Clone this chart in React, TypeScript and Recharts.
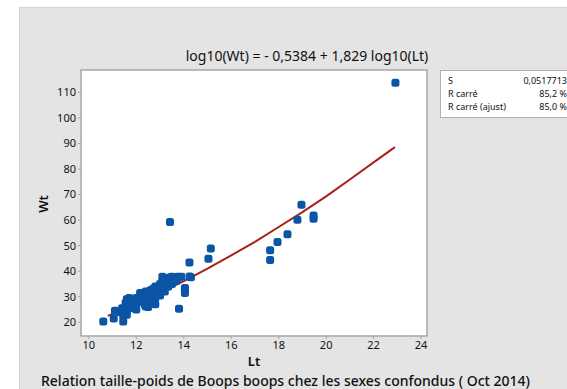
import React from 'react';
import { ComposedChart, Scatter, Line, XAxis, YAxis, ReferenceArea } from 'recharts';

const obsLt = [
  10.61, 11.05, 11.1, 11.3, 11.45, 11.45, 11.5, 11.6, 11.55, 11.6, 11.7, 11.8, 11.8, 11.9, 11.9, 12.0,
  11.7, 12.0, 12.1, 12.1, 12.2, 12.2, 12.3, 12.3, 12.35, 12.4, 12.5, 12.4, 12.4, 12.5, 12.5, 12.6,
  12.6, 12.7, 12.7, 12.7, 12.8, 12.8, 12.8, 12.9, 12.9, 13.0, 13.0, 13.0, 13.1, 13.1, 13.2, 13.2,
  13.2, 13.3, 13.3, 13.4, 13.4, 13.5, 13.5, 13.6, 13.6, 13.7, 13.75, 13.7, 13.9, 14.05, 14.05, 14.05,
  14.25, 14.3, 13.8, 14.24, 12.0, 11.4, 11.6, 12.16, 13.35, 13.42,
  15.04, 15.14, 17.64, 17.64, 17.95, 18.37, 18.79, 18.96, 19.47, 19.47, 22.92,
];
const obsWt = [
  20.3, 21.5, 24.5, 24.0, 20.3, 22.5, 25.0, 24.5, 27.5, 29.0, 29.5, 28.5, 27.0, 26.0, 25.5, 25.0,
  26.0, 27.5, 28.0, 29.0, 30.0, 31.0, 29.5, 28.0, 27.0, 26.2, 26.0, 30.5, 32.0, 31.5, 29.0, 30.0,
  32.5, 33.0, 31.0, 28.5, 27.0, 29.5, 34.0, 33.0, 31.5, 35.0, 33.5, 30.5, 36.0, 37.8, 34.5, 32.0,
  36.5, 35.5, 34.0, 36.5, 37.5, 37.8, 35.0, 37.5, 36.0, 37.0, 37.8, 36.2, 37.8, 33.4, 31.4, 32.6,
  37.9, 37.6, 25.3, 43.4, 29.5, 25.5, 22.9, 31.4, 34.0, 59.3,
  44.9, 48.9, 48.2, 44.4, 51.4, 54.5, 60.1, 66.0, 61.8, 60.5, 113.8,
];

// fitted curve, points
const fitLt = [10.8, 11.5, 12, 13, 14, 15, 16, 17, 18, 19, 20, 21, 22, 22.9];
const fitWt = [22.5, 25.2, 27.2, 31.6, 36.1, 41.0, 46.2, 51.5, 57.3, 63.1, 69.3, 75.9, 82.6, 88.6];

const xTicks = [10, 12, 14, 16, 18, 20, 22, 24];
const yTicks = [20, 30, 40, 50, 60, 70, 80, 90, 100, 110];

const statLabels = ['S', 'R carré', 'R carré (ajust)'];
const statValues = ['0,0517713', '85,2 %', '85,0 %'];

const observations = obsLt.map((lt, i) => ({ lt, wt: obsWt[i] }));
const fitted = fitLt.map((lt, i) => ({ lt, fit: fitWt[i] }));

const X_DOMAIN: [number, number] = [9.67, 24.25];
const Y_DOMAIN: [number, number] = [14.6, 118.8];

const FONT = '"Noto Sans", "Open Sans", sans-serif';
const AXIS_GREY = '#a6a6a6';
const DOT_BLUE = '#0a55a5';
const FIT_RED = '#a8201a';

const SquareDot = (props: any) => {
  const { cx, cy } = props;
  if (cx == null || cy == null) return null;
  return <rect x={cx - 4} y={cy - 4} width={8} height={8} rx={2.5} fill={DOT_BLUE} />;
};

const tickStyle = { fill: '#111', fontSize: 11, fontFamily: FONT };

export default function App() {
  return (
    <div style={{ position: 'absolute', left: 0, top: 0, width: 567, height: 389, background: '#fff', overflow: 'hidden' }}>
      <div style={{ position: 'absolute', left: 19, top: 7, width: 560, height: 400, background: '#e4e4e4', border: '1px solid #d4d4d4' }} />
      <div style={{ position: 'absolute', left: 0, top: 0 }}>
        <ComposedChart width={567} height={389} margin={{ top: 70, right: 140, bottom: 33, left: 51 }}>
          <XAxis
            type="number"
            dataKey="lt"
            domain={X_DOMAIN}
            ticks={xTicks}
            height={20}
            tick={tickStyle}
            tickSize={3}
            axisLine={false}
            tickLine={{ stroke: AXIS_GREY }}
          />
          <YAxis
            type="number"
            domain={Y_DOMAIN}
            ticks={yTicks}
            width={30}
            tick={tickStyle}
            tickSize={3}
            axisLine={false}
            tickLine={{ stroke: AXIS_GREY }}
          />
          <ReferenceArea
            x1={X_DOMAIN[0]}
            x2={X_DOMAIN[1]}
            y1={Y_DOMAIN[0]}
            y2={Y_DOMAIN[1]}
            fill="#fff"
            fillOpacity={1}
            stroke={AXIS_GREY}
            strokeWidth={1.5}
          />
          <Line
            data={fitted}
            dataKey="fit"
            type="linear"
            stroke={FIT_RED}
            strokeWidth={2}
            dot={false}
            activeDot={false}
            isAnimationActive={false}
          />
          <Scatter data={observations} dataKey="wt" shape={<SquareDot />} isAnimationActive={false} />
        </ComposedChart>
      </div>

      <div style={{ position: 'absolute', left: 157, width: 300, top: 46, textAlign: 'center', fontFamily: FONT, fontSize: 14, color: '#111', whiteSpace: 'nowrap' }}>
        log10(Wt) = - 0,5384 + 1,829 log10(Lt)
      </div>
      <div style={{ position: 'absolute', left: 43, top: 204, transform: 'translate(-50%, -50%) rotate(-90deg)', fontFamily: FONT, fontSize: 13, fontWeight: 600, color: '#111' }}>
        Wt
      </div>
      <div style={{ position: 'absolute', left: 81, width: 346, top: 352, textAlign: 'center', fontFamily: FONT, fontSize: 13, fontWeight: 600, color: '#111' }}>
        Lt
      </div>
      <div style={{ position: 'absolute', left: 0, width: 571, top: 371, textAlign: 'center', fontFamily: FONT, fontSize: 14, fontWeight: 500, color: '#111', whiteSpace: 'nowrap' }}>
        Relation taille-poids de Boops boops chez les sexes confondus ( Oct 2014)
      </div>

      <div style={{ position: 'absolute', left: 440, top: 70, width: 140, height: 46, background: '#fff', border: '1px solid #b0b0b0' }}>
        {statLabels.map((label, i) => (
          <div key={label} style={{ position: 'absolute', left: 7, top: 3 + i * 13, fontFamily: FONT, fontSize: 9, color: '#111', whiteSpace: 'nowrap' }}>
            {label}
          </div>
        ))}
        {statValues.map((value, i) => (
          <div key={value} style={{ position: 'absolute', left: 126, top: 3 + i * 13, transform: 'translateX(-100%)', fontFamily: FONT, fontSize: 9, color: '#111', whiteSpace: 'nowrap' }}>
            {value}
          </div>
        ))}
      </div>
    </div>
  );
}
